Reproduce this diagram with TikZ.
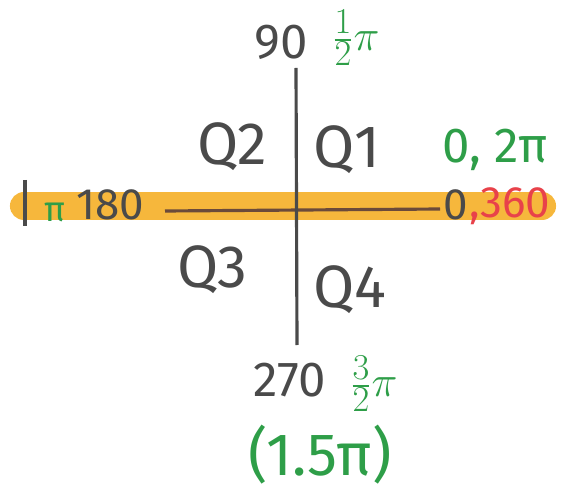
\documentclass[tikz,border=0pt]{standalone}
\usepackage{amsmath}
\usepackage{xcolor}
\usepackage{fontspec}
\setmainfont{Fira Sans}
\usepackage{tikz}

\definecolor{verde}{HTML}{2E9E48}
\definecolor{rojo}{HTML}{E8424A}
\definecolor{naranja}{HTML}{F6B73C}
\definecolor{tinta}{HTML}{4A4A4A}
\definecolor{cafe}{HTML}{6B4A3A}

\tikzset{
  grados/.style={text=tinta, font=\fontsize{25}{28}\selectfont},
  cuad/.style={text=tinta, font=\fontsize{34}{38}\selectfont},
  rad/.style={text=verde, font=\fontsize{30}{34}\selectfont, inner sep=0pt},
}

\begin{document}
\begin{tikzpicture}[x=0.02cm,y=-0.02cm]
\useasboundingbox (0,0) rectangle (574,496);

%   eje horizontal resaltado
\draw[naranja, line width=16pt, line cap=round] (24,206)--(542,206);

\coordinate (izq) at (165,211);
\coordinate (der) at (440,209);
\coordinate (arriba) at (296,68);
\coordinate (abajo) at (297,345);
\coordinate (barra1) at (25,180);
\coordinate (barra2) at (25,226);

%   etiquetas
\node[grados, font=\fontsize{28}{32}\selectfont] (n90) at (281,42) {90};
\node[rad] (r90) at (356,38) {$\tfrac{1}{2}\pi$};
\node[cuad] (q2) at (232,147) {Q2};
\node[cuad] (q1) at (347,150) {Q1};
\node[cuad] (q3) at (212,270) {Q3};
\node[cuad] (q4) at (350,290) {Q4};
\node[rad, font=\fontsize{28}{32}\selectfont] (r0) at (495,150) {0, 2π};
\node[rad, font=\fontsize{20}{24}\selectfont] (r180) at (55,212) {π};
\node[grados] (n180) at (110,205) {180};
\node[grados] (n0) at (456,205) {0};
\node[grados, text=rojo] (n360) at (510,206) {,360};
\node[grados, font=\fontsize{28}{32}\selectfont] (n270) at (290,380) {270};
\node[rad] (r270) at (374,384) {$\tfrac{3}{2}\pi$};
\node[rad, font=\fontsize{34}{38}\selectfont] (r270b) at (320,455) {(1.5π)};

%   ejes
\draw[cafe, line width=1.8pt] (izq)--(der);
\draw[tinta, line width=1.8pt] (arriba)--(abajo);
\draw[tinta, line width=2.2pt] (barra1)--(barra2);

\end{tikzpicture}
\end{document}
